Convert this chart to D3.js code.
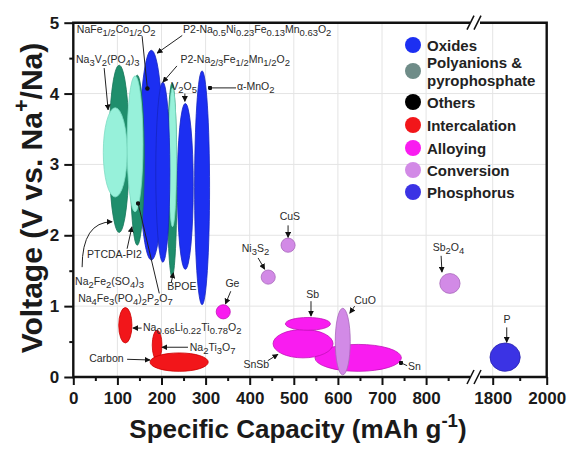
<!DOCTYPE html>
<html>
<head>
<meta charset="utf-8">
<script src="https://cdn.jsdelivr.net/npm/d3@7"></script>
<style>
body { margin: 0; background: #fff; }
text { font-family: "Liberation Sans", Arial, sans-serif; }
</style>
</head>
<body>
<svg id="chart" width="572" height="450"></svg>
<script>
// legend categories and colours
var categories = ["Oxides", "Polyanions &|pyrophosphate", "Others", "Intercalation", "Alloying", "Conversion", "Phosphorus"];
var catColors = ["#1c2ff2", "#6f8c88", "#000000", "#f2161a", "#f91cf0", "#d28ae6", "#3b33e4"];

var xTicksLeft = [0, 100, 200, 300, 400, 500, 600, 700, 800];
var xMinorLeft = [50, 150, 250, 350, 450, 550, 650, 750, 850];
var xTicksRight = [1800, 2000];
var xMinorRight = [1900];
var yTicks = [0, 1, 2, 3, 4, 5];
var yMinor = [0.5, 1.5, 2.5, 3.5, 4.5];

// each region: [capacity, voltage, capacity half-range, voltage half-range]
var polyanionsDark = [[104, 3.22, 23, 1.18], [145, 3.06, 16, 1.2], [224, 2.78, 11, 1.37]];
var polyanionsLight = [[95, 3.17, 27, 0.63], [140, 3.29, 18, 0.96], [225, 3.1, 9, 0.98]];
var oxides = [[177, 3.13, 27, 1.48], [203, 2.89, 16, 1.27], [254, 2.69, 18, 1.17], [292, 2.67, 17, 1.65]];
var intercalation = [[118, 0.73, 15, 0.25], [190, 0.45, 11, 0.21], [240, 0.21, 66, 0.13]];
var alloying = [[646, 0.27, 98, 0.19], [521, 0.47, 68, 0.2], [532, 0.75, 51, 0.09], [340, 0.92, 16, 0.1]];
var conversion = [[611, 0.5, 17, 0.47], [487, 1.86, 16, 0.1], [442, 1.41, 16, 0.1], [854, 1.32, 23, 0.14]];
var phosphorus = [[1846, 0.28, 56, 0.2]];

// annotation labels: [text, capacity, voltage]
var labels = [
  ["NaFe_{1/2}Co_{1/2}O_{2}", 8, 4.86],
  ["P2-Na_{0.5}Ni_{0.23}Fe_{0.13}Mn_{0.63}O_{2}", 249, 4.86],
  ["Na_{3}V_{2}(PO_{4})_{3}", 6, 4.43],
  ["P2-Na_{2/3}Fe_{1/2}Mn_{1/2}O_{2}", 243, 4.43],
  ["V_{2}O_{5}", 222, 4.05],
  ["\u03b1-MnO_{2}", 371, 4.05],
  ["PTCDA-PI2", 31, 1.68],
  ["Na_{2}Fe_{2}(SO_{4})_{3}", 4, 1.30],
  ["Na_{4}Fe_{3}(PO_{4})_{2}P_{2}O_{7}", 11, 1.06],
  ["BPOE", 213, 1.23],
  ["Na_{0.66}Li_{0.22}Ti_{0.78}O_{2}", 158, 0.65],
  ["Na_{2}Ti_{3}O_{7}", 264, 0.37],
  ["Carbon", 36, 0.21],
  ["Ge", 345, 1.27],
  ["Ni_{3}S_{2}", 382, 1.76],
  ["CuS", 468, 2.21],
  ["Sb", 528, 1.11],
  ["SnSb", 386, 0.13],
  ["CuO", 637, 1.03],
  ["Sn", 759, 0.10],
  ["Sb_{2}O_{4}", 815, 1.78],
  ["P", 1840, 0.76]
];
// pointers: [cap1, v1, cap2, v2, end type]
var pointers = [
  [156, 4.81, 168, 4.07, "dot"],
  [247, 4.82, 190, 4.57, "arrow"],
  [70, 4.36, 79, 3.77, "arrow"],
  [235, 4.39, 203, 4.16, "arrow"],
  [253, 4.0, 253, 3.89, "arrow"],
  [369, 4.08, 310, 4.08, "dot"],
  [122, 1.81, 133, 2.12, "arrow"],
  [20, 1.55, 88, 2.19, "curve"],
  [195, 1.18, 147, 2.45, "dot"],
  [222, 1.33, 227, 1.47, "arrow"],
  [155, 0.69, 135, 0.69, "arrow"],
  [260, 0.42, 201, 0.42, "arrow"],
  [122, 0.25, 174, 0.24, "arrow"],
  [357, 1.21, 345, 1.03, "arrow"],
  [419, 1.68, 434, 1.52, "arrow"],
  [487, 2.14, 487, 1.97, "arrow"],
  [539, 1.07, 539, 0.86, "arrow"],
  [441, 0.23, 464, 0.32, "arrow"],
  [638, 1.0, 627, 0.9, "arrow"],
  [757, 0.16, 743, 0.2, "dot"],
  [834, 1.71, 836, 1.48, "arrow"],
  [1852, 0.7, 1852, 0.49, "arrow"]
];

var svg = d3.select("#chart");
var pL = 73.3, pR = 546.7, pT = 22.7, pB = 377;

var xL = d3.scaleLinear().domain([0, 900]).range([pL, 470.2]);
var xR = d3.scaleLinear().domain([1750, 2000]).range([479.2, pR]);
var y = d3.scaleLinear().domain([0, 5]).range([pB, pT]);
function x(v) { return v < 1000 ? xL(v) : xR(v); }
function xw(c, d) { return c < 1000 ? xL(d) - xL(0) : xR(1750 + d) - xR(1750); }

// text with sub/superscripts
function rich(sel, str, size, k) {
  var off = 0;
  k = k || 0.72;
  str.split(/([_^]\{[^}]*\})/).forEach(function(p) {
    if (!p) return;
    var shift = 0, fs = size, s = p;
    if (p[0] === "_") { shift = size * 0.3; fs = size * k; s = p.slice(2, -1); }
    else if (p[0] === "^") { shift = -size * 0.42; fs = size * k; s = p.slice(2, -1); }
    sel.append("tspan").attr("dy", shift - off).attr("font-size", fs).text(s);
    off = shift;
  });
}

// grid
var grid = svg.append("g").attr("stroke", "#e4e4e4").attr("stroke-width", 1);
xTicksLeft.slice(1).concat(xTicksRight.slice(0, 1)).forEach(function(t) {
  grid.append("line").attr("x1", x(t)).attr("x2", x(t)).attr("y1", pT).attr("y2", pB);
});
yTicks.slice(1, -1).forEach(function(t) {
  grid.append("line").attr("x1", pL).attr("x2", pR).attr("y1", y(t)).attr("y2", y(t));
});

// regions
function drawSet(data, fill, stroke) {
  svg.append("g").selectAll("ellipse").data(data).enter().append("ellipse")
    .attr("cx", function(d) { return x(d[0]); })
    .attr("cy", function(d) { return y(d[1]); })
    .attr("rx", function(d) { return xw(d[0], d[2]); })
    .attr("ry", function(d) { return y(0) - y(d[3]); })
    .attr("fill", fill)
    .attr("stroke", stroke)
    .attr("stroke-width", 0.8);
}
drawSet(oxides.slice(0, 1), catColors[0], "#1524c0");
drawSet(polyanionsDark, "#1f8e6c", "#17765a");
drawSet(polyanionsLight, "#97f1da", "#7fdcc4");
drawSet(oxides.slice(1), catColors[0], "#1524c0");
drawSet(intercalation, catColors[3], "#c00");
drawSet(alloying, catColors[4], "#c010b8");
drawSet(conversion, catColors[5], "#a868bb");
drawSet(phosphorus, catColors[6], "#2822b0");

// pointers
var defs = svg.append("defs");
defs.append("marker").attr("id", "arr").attr("viewBox", "0 0 10 10").attr("refX", 9).attr("refY", 5)
  .attr("markerWidth", 6).attr("markerHeight", 6).attr("orient", "auto")
  .append("path").attr("d", "M0,0L10,5L0,10Z").attr("fill", "#111");
defs.append("marker").attr("id", "dot").attr("viewBox", "0 0 10 10").attr("refX", 5).attr("refY", 5)
  .attr("markerWidth", 4.5).attr("markerHeight", 4.5)
  .append("circle").attr("cx", 5).attr("cy", 5).attr("r", 5).attr("fill", "#111");

var pg = svg.append("g").attr("stroke", "#222").attr("stroke-width", 1).attr("fill", "none");
pointers.forEach(function(p) {
  var x1 = x(p[0]), y1 = y(p[1]), x2 = x(p[2]), y2 = y(p[3]);
  var path = p[4] === "curve"
    ? "M" + x1 + "," + y1 + "Q" + x1 + "," + y2 + " " + x2 + "," + y2
    : "M" + x1 + "," + y1 + "L" + x2 + "," + y2;
  pg.append("path").attr("d", path)
    .attr("marker-end", p[4] === "dot" ? "url(#dot)" : "url(#arr)");
});

var lg = svg.append("g").attr("fill", "#2a2a2a");
labels.forEach(function(l) {
  var t = lg.append("text").attr("x", x(l[1])).attr("y", y(l[2])).attr("font-size", 10.5);
  rich(t, l[0], 10.5, 0.9);
});

// axes
var ax = svg.append("g").attr("font-weight", "bold");
function axisB(scale, major, minor) {
  ax.append("g").attr("transform", "translate(0," + pB + ")")
    .call(d3.axisBottom(scale).tickValues(major).tickSize(8).tickPadding(7).tickFormat(d3.format("d")))
    .call(function(g) { g.select(".domain").remove(); });
  ax.append("g").attr("transform", "translate(0," + pB + ")")
    .call(d3.axisBottom(scale).tickValues(minor).tickSize(4).tickFormat(""))
    .call(function(g) { g.select(".domain").remove(); });
}
axisB(xL, xTicksLeft, xMinorLeft);
axisB(xR, xTicksRight, xMinorRight);
ax.append("g").attr("transform", "translate(" + pL + ",0)")
  .call(d3.axisLeft(y).tickValues(yTicks).tickSize(9).tickPadding(5).tickFormat(d3.format("d")))
  .call(function(g) { g.select(".domain").remove(); });
ax.append("g").attr("transform", "translate(" + pL + ",0)")
  .call(d3.axisLeft(y).tickValues(yMinor).tickSize(4).tickFormat(""))
  .call(function(g) { g.select(".domain").remove(); });
ax.selectAll(".tick line").attr("stroke", "#111").attr("stroke-width", 2);
ax.selectAll(".tick text").attr("font-size", 17).attr("font-family", "Liberation Sans, Arial, sans-serif").attr("fill", "#1a1a1a");

// frame with axis break
var fr = svg.append("g").attr("stroke", "#111").attr("stroke-width", 2.4).attr("fill", "none");
var b1 = 470, b2 = 480;
fr.append("path").attr("d",
  "M" + b1 + "," + pT + "H" + pL + "V" + pB + "H" + b1 +
  "M" + b2 + "," + pB + "H" + pR + "V" + pT + "H" + b2);
[pT, pB].forEach(function(yy) {
  [b1 - 1, b2 - 4].forEach(function(xx) {
    fr.append("line").attr("x1", xx - 2).attr("y1", yy + 7).attr("x2", xx + 5).attr("y2", yy - 7).attr("stroke-width", 1.6);
  });
});

// legend
var legY = [45, 71, 102, 125, 148, 170, 192];
var leg = svg.append("g");
categories.forEach(function(c, i) {
  leg.append("circle").attr("cx", 413).attr("cy", legY[i]).attr("r", 8).attr("fill", catColors[i]);
  var lines = c.split("|");
  lines.forEach(function(line, j) {
    var cy = lines.length === 1 ? legY[i] : legY[i] - 9 + j * 18;
    leg.append("text").attr("x", 427).attr("y", cy + 5.5)
      .attr("font-family", "DejaVu Sans, sans-serif").attr("font-weight", "bold")
      .attr("font-size", 15).attr("fill", "#222").text(line);
  });
});

// axis titles
var xt = svg.append("text").attr("x", 298).attr("y", 438).attr("text-anchor", "middle")
  .attr("font-size", 26).attr("font-weight", "bold").attr("fill", "#1a1a1a");
rich(xt, "Specific Capacity (mAh g^{-1})", 26);
var yt = svg.append("text").attr("transform", "translate(42,198) rotate(-90)").attr("text-anchor", "middle")
  .attr("font-size", 30).attr("font-weight", "bold").attr("fill", "#1a1a1a");
rich(yt, "Voltage (V vs. Na^{+}/Na)", 30);
</script>
</body>
</html>
